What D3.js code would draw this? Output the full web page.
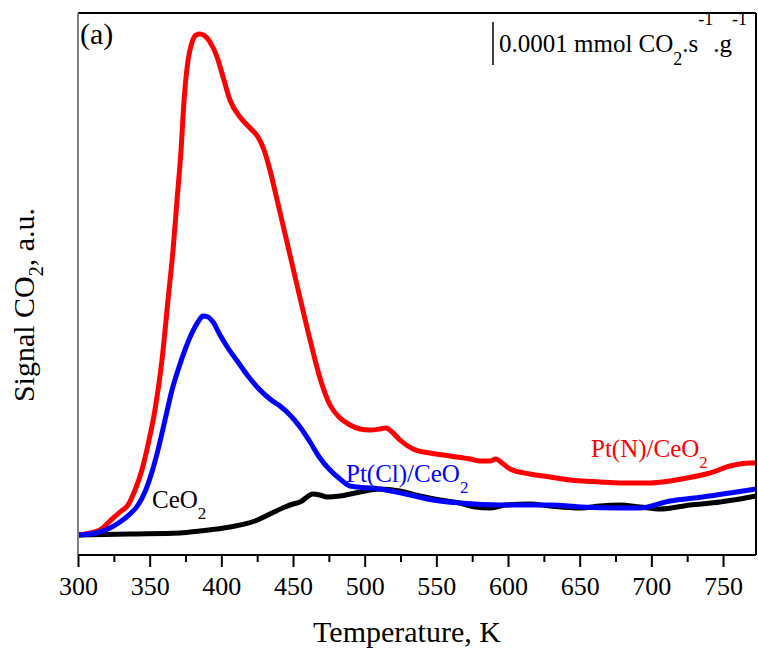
<!DOCTYPE html>
<html>
<head>
<meta charset="utf-8">
<script src="https://cdn.jsdelivr.net/npm/d3@7"></script>
<style>
  html, body { margin: 0; padding: 0; background: #fff; }
  svg { display: block; }
  text { font-family: "Liberation Serif", "Times New Roman", serif; }
</style>
</head>
<body>
<svg id="chart" width="758" height="650"></svg>
<script>
// ---- data (temperature in K, CO2 signal in arbitrary units) ----
const ptNTemp = [300,308.4,315.3,322.3,329.3,334.9,339.8,344.6,348.8,353.7,358.6,362.8,366.3,369.1,371.9,374.0,376.8,379.6,382.4,385.1,388.6,392.1,397.0,401.2,406.0,413.0,420.0,425.6,429.8,433.9,438.1,443.0,447.9,454.9,461.9,468.8,475.8,482.8,489.8,496.7,503.7,510.7,514.9,519.1,524.6,533.7,545.6,559.5,573.5,580.5,587.4,591.6,595.8,601.4,615.3,629.3,643.2,664.2,678.1,699.0,713.0,724.9,740.9,754.9,768.8,773];
const ptNSignal = [0,0.4,1,2.8,4.6,6,9,13,18,25,35,47,57,67,77,87,95,98.6,100,100.2,99.8,98.6,95.6,91.6,87,83.6,81.4,79.6,77,73,68,62,56,47.4,39,31.4,26,23.4,22,21.2,21,21.2,21.4,20.6,19,17.2,16.4,15.8,15.2,14.8,14.8,15.2,14.4,13.2,12.2,11.6,11,10.6,10.4,10.4,10.8,11.4,12.4,13.8,14.4,14.4];

const ptClTemp = [300,308.4,315.3,322.3,329.3,336.3,341.9,346.7,351.6,355.8,360.7,365.6,369.8,374.6,379.5,383.7,387.2,390.7,394.2,399.1,404.6,411.6,418.6,425.6,433.9,440.9,447.9,454.9,461.9,468.8,475.8,482.8,489.8,510.7,531.6,547.7,566.5,594.4,629.3,650.2,678.1,692.1,713.0,736.0,754.9,773];
const ptClSignal = [0,0.2,0.6,1.4,2.6,4.2,6,8.6,12.6,17,23,29,33,37,40.4,42.6,43.8,43.6,42.6,40,37.4,34.6,31.8,29.4,27.2,25.8,24,21.6,18.6,15.4,13,11.2,9.8,9.2,8,7,6.4,6,6,5.6,5.4,5.4,6.8,7.6,8.4,9.2];

const ceO2Temp = [300,336.3,371.2,385.1,406.0,423.5,433.9,444.4,450.0,454.9,463.9,468.8,473.7,482.8,496.7,510.7,524.6,538.6,552.5,566.5,577.0,587.4,597.9,615.3,629.3,650.2,664.2,678.1,692.1,706.0,726.9,747.9,761.8,773];
const ceO2Signal = [0,0.2,0.4,0.8,1.6,2.8,4.2,5.6,6.2,6.6,8.2,8,7.6,7.8,8.6,9.2,8.8,7.8,7,6.4,5.6,5.4,6,6.2,5.8,5.4,5.8,6,5.6,5.2,6,6.6,7.2,7.8];

const xTicks = [300,350,400,450,500,550,600,650,700,750];
const xMinorTicks = [325,375,425,475,525,575,625,675,725];
const scaleBarSignal = [94, 102.6]; // 0.0001 mmol CO2 s-1 g-1

// ---- layout ----
const svg = d3.select("#chart");
const pL = 78, pR = 756, pT = 13, pB = 555;
const x = d3.scaleLinear().domain([300, 773]).range([pL, pR]);
const y = d3.scaleLinear().domain([-4, 104.4]).range([pB, pT]);

const line = d3.line().x(d => x(d[0])).y(d => y(d[1])).curve(d3.curveMonotoneX);
svg.append("clipPath").attr("id", "plotclip").append("rect")
  .attr("x", pL).attr("y", pT).attr("width", pR - pL).attr("height", pB - pT);

const g = svg.append("g").attr("clip-path", "url(#plotclip)");
const series = [
  {t: ceO2Temp, s: ceO2Signal, c: "#000000"},
  {t: ptNTemp, s: ptNSignal, c: "#ff0000"},
  {t: ptClTemp, s: ptClSignal, c: "#0000ff"}
];
series.forEach(sr => {
  g.append("path").datum(sr.t.map((t, i) => [t, sr.s[i]]))
    .attr("d", line).attr("fill", "none").attr("stroke", sr.c)
    .attr("stroke-width", 5).attr("stroke-linejoin", "round").attr("stroke-linecap", "round");
});

// frame
svg.append("line").attr("x1", pL).attr("x2", pR).attr("y1", pT).attr("y2", pT).attr("stroke", "#000").attr("stroke-width", 2);
svg.append("line").attr("x1", pR).attr("x2", pR).attr("y1", pT).attr("y2", pB).attr("stroke", "#000").attr("stroke-width", 2);
svg.append("line").attr("x1", pL).attr("x2", pL).attr("y1", pT).attr("y2", pB).attr("stroke", "#7f7f7f").attr("stroke-width", 2);

// x axis
const xAxis = d3.axisBottom(x).tickValues(xTicks).tickSize(12).tickPadding(6).tickFormat(d3.format("d"));
const ax = svg.append("g").attr("transform", `translate(0,${pB})`).call(xAxis);
ax.select(".domain").attr("stroke", "#000").attr("stroke-width", 2).attr("d", `M${pL},0H${pR}`);
ax.selectAll(".tick line").attr("stroke", "#000").attr("stroke-width", 2);
ax.selectAll(".tick text").attr("font-size", 26).attr("fill", "#000")
  .attr("font-family", "Liberation Serif, Times New Roman, serif").attr("dy", null).attr("y", 40);
const axMinor = d3.axisBottom(x).tickValues(xMinorTicks).tickSize(7).tickFormat("");
const am = svg.append("g").attr("transform", `translate(0,${pB})`).call(axMinor);
am.select(".domain").remove();
am.selectAll(".tick line").attr("stroke", "#000").attr("stroke-width", 2);

// axis titles
svg.append("text").attr("x", 407).attr("y", 642).attr("text-anchor", "middle")
  .attr("font-size", 30).text("Temperature, K");
const yt = svg.append("text").attr("transform", "translate(34,305) rotate(-90)")
  .attr("text-anchor", "middle").attr("font-size", 30);
yt.append("tspan").text("Signal CO");
yt.append("tspan").attr("font-size", 20).attr("dy", 9).text("2");
yt.append("tspan").attr("dy", -9).text(", a.u.");

// panel label
svg.append("text").attr("x", 80).attr("y", 44).attr("font-size", 30).text("(a)");

// scale bar
svg.append("line").attr("x1", 493).attr("x2", 493)
  .attr("y1", y(scaleBarSignal[0])).attr("y2", y(scaleBarSignal[1]))
  .attr("stroke", "#000").attr("stroke-width", 1.5);
const sb = svg.append("text").attr("x", 499).attr("y", 52).attr("font-size", 25);
sb.append("tspan").text("0.0001 mmol CO");
sb.append("tspan").attr("font-size", 18).attr("dy", 13).text("2");
sb.append("tspan").attr("dy", -13).text(".s");
sb.append("tspan").attr("font-size", 18).attr("dy", -27).text("-1");
sb.append("tspan").attr("dy", 27).text(".g");
sb.append("tspan").attr("font-size", 18).attr("dy", -27).text("-1");

// series labels
function label(xp, yp, main, color) {
  const t = svg.append("text").attr("x", xp).attr("y", yp).attr("font-size", 25).attr("fill", color);
  t.append("tspan").text(main);
  t.append("tspan").attr("font-size", 17).attr("dy", 11).text("2");
}
label(152, 508, "CeO", "#000");
label(346, 482, "Pt(Cl)/CeO", "#0000ff");
label(591, 457, "Pt(N)/CeO", "#ff0000");
</script>
</body>
</html>
